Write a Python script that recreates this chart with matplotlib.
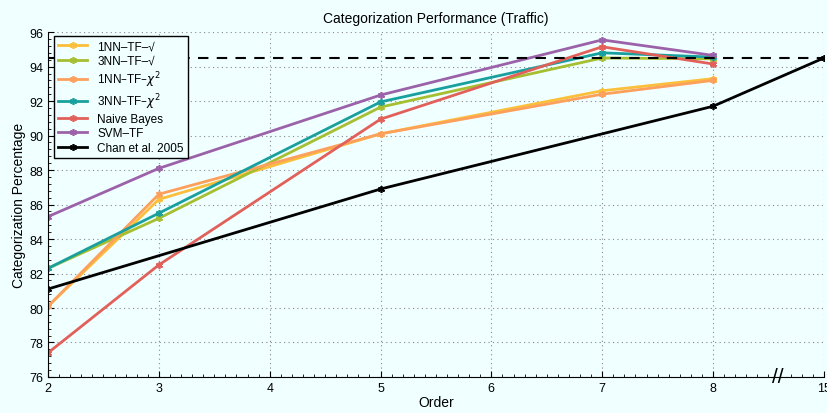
import matplotlib.pyplot as plt
from matplotlib.ticker import MultipleLocator

plt.rcParams['font.family'] = ['Liberation Sans', 'DejaVu Sans']

# order values and where they sit on the (broken) x axis
tick_orders = [2, 3, 4, 5, 6, 7, 8, 15]
tick_pos = [2, 3, 4, 5, 6, 7, 8, 9]
pos_of = dict(zip(tick_orders, tick_pos))

orders = [2, 3, 5, 7, 8]
nn1_sqrt = [80.1, 86.3, 90.1, 92.6, 93.3]
nn3_sqrt = [82.3, 85.2, 91.65, 94.5, 94.45]
nn1_chi = [80.1, 86.6, 90.1, 92.4, 93.2]
nn3_chi = [82.3, 85.5, 91.95, 94.8, 94.55]
naive_bayes = [77.4, 82.5, 90.95, 95.15, 94.15]
svm_tf = [85.3, 88.1, 92.35, 95.55, 94.65]

chan_orders = [2, 5, 8, 15]
chan = [81.1, 86.9, 91.7, 94.5]
chan_ref = 94.5

series = [
    ('1NN\u2013TF\u2013\u221a', nn1_sqrt, '#fbbf3a'),
    ('3NN\u2013TF\u2013\u221a', nn3_sqrt, '#a5bf30'),
    ('1NN\u2013TF\u2013$\\chi^2$', nn1_chi, '#fca05c'),
    ('3NN\u2013TF\u2013$\\chi^2$', nn3_chi, '#17a09e'),
    ('Naive Bayes', naive_bayes, '#e2605a'),
    ('SVM\u2013TF', svm_tf, '#9c62a9'),
]

bg = '#f0ffff'
fig = plt.figure(figsize=(8.28, 4.14), dpi=100, facecolor=bg)
ax = fig.add_axes([0.058, 0.087, 0.937, 0.833], facecolor=bg)

star = (6, 2, 0)
x = [pos_of[o] for o in orders]
for name, vals, col in series:
    ax.plot(x, vals, color=col, lw=2, marker=star, ms=5, mew=1.2, label=name)

ax.plot([pos_of[o] for o in chan_orders], chan, color='black', lw=2,
        marker=star, ms=5, mew=1.2, label='Chan et al. 2005')
ax.axhline(chan_ref, color='black', lw=1.5, ls=(0, (5, 4)))

ax.set_xlim(2, 9)
ax.set_ylim(76, 96)
ax.set_xticks(tick_pos)
ax.set_xticklabels([str(o) for o in tick_orders])
ax.set_yticks(range(76, 97, 2))
ax.xaxis.set_minor_locator(MultipleLocator(0.1))
ax.yaxis.set_minor_locator(MultipleLocator(0.4))
ax.tick_params(which='both', direction='in', labelsize=9, top=False, right=False)
ax.tick_params(which='major', length=4)
ax.tick_params(which='minor', length=2)
ax.grid(True, which='major', color='#888888', ls=(0, (1, 3)), lw=0.8)

for s in ['top', 'right']:
    ax.spines[s].set_visible(False)

# axis break mark
ax.text(8.58, 76, '//', fontsize=15, ha='center', va='center', clip_on=False)

ax.set_xlabel('Order', fontsize=10, labelpad=1)
ax.set_ylabel('Categorization Percentage', fontsize=10, labelpad=2)
ax.set_title('Categorization Performance (Traffic)', fontsize=10, pad=7)

leg = ax.legend(loc='upper left', fontsize=8.5, fancybox=False, framealpha=1,
                facecolor=bg, edgecolor='black', borderpad=0.35, labelspacing=0.2,
                handlelength=2.4, handletextpad=0.9, borderaxespad=0,
                bbox_to_anchor=(0.008, 0.988))
leg.get_frame().set_linewidth(1)

fig.savefig('out.png', dpi=100, facecolor=bg)
